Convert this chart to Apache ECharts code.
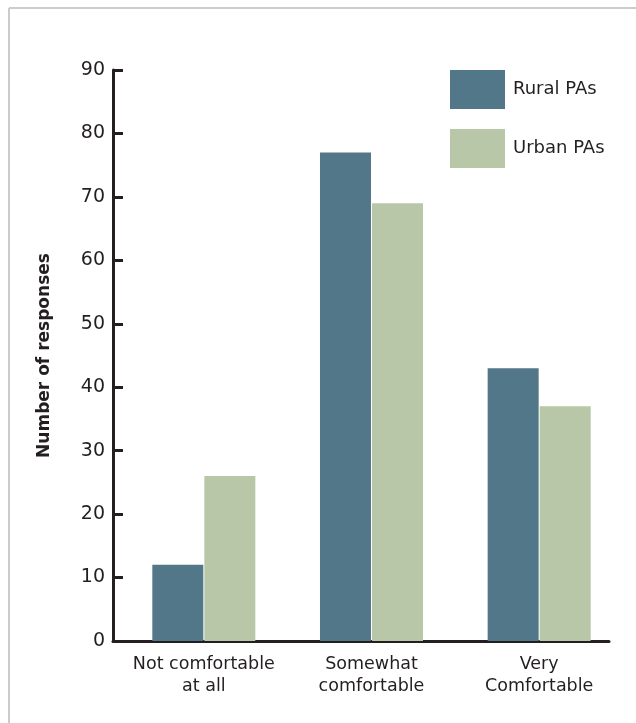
<!DOCTYPE html>
<html>
<head>
<meta charset="utf-8">
<script src="https://cdn.jsdelivr.net/npm/echarts@6/dist/echarts.min.js"></script>
<style>
html,body{margin:0;padding:0;background:#fff;}
#chart{width:636px;height:723px;}
</style>
</head>
<body>
<div id="chart"></div>
<script>
const categories = ['Not comfortable\nat all', 'Somewhat\ncomfortable', 'Very\nComfortable'];
const seriesNames = ['Rural PAs', 'Urban PAs'];
const ruralValues = [12, 77, 43];
const urbanValues = [26, 69, 37];
const yTicks = { min: 0, max: 90, interval: 10 };

const FONT = 'DejaVu Sans';
const AXIS_COLOR = '#231f20';
const chart = echarts.init(document.getElementById('chart'), null, { renderer: 'canvas' });

const option = {
  backgroundColor: '#ffffff',
  animation: false,
  textStyle: { fontFamily: FONT },
  graphic: [
    { type: 'line', shape: { x1: 9, y1: 8, x2: 636, y2: 8 }, style: { stroke: '#cccccc', lineWidth: 2 } },
    { type: 'line', shape: { x1: 9, y1: 8, x2: 9, y2: 723 }, style: { stroke: '#cccccc', lineWidth: 2 } }
  ],
  legend: {
    orient: 'vertical',
    left: 450,
    top: 70,
    padding: 0,
    itemWidth: 55,
    itemHeight: 39,
    itemGap: 20,
    icon: 'rect',
    data: seriesNames,
    textStyle: { fontFamily: FONT, fontSize: 18, color: '#231f20', padding: [0, 0, 0, 3] }
  },
  grid: [
    { left: 113, top: 70, width: 496, height: 571 },
    { left: 120, top: 70, width: 503, height: 571 }
  ],
  xAxis: [
    {
      type: 'category', gridIndex: 0, data: categories,
      axisLine: { lineStyle: { color: AXIS_COLOR, width: 3 } },
      axisTick: { inside: true, length: 12, lineStyle: { color: AXIS_COLOR, width: 3 } },
      axisLabel: { show: false }
    },
    {
      type: 'category', gridIndex: 1, data: categories,
      axisLine: { show: false },
      axisTick: { show: false },
      axisLabel: { interval: 0, fontFamily: FONT, fontSize: 17.5, color: '#231f20', lineHeight: 22, margin: 12 }
    }
  ],
  yAxis: [
    {
      type: 'value', gridIndex: 0, min: yTicks.min, max: yTicks.max, interval: yTicks.interval,
      name: 'Number of responses',
      nameLocation: 'middle',
      nameGap: 60,
      nameRotate: 90,
      nameTextStyle: { fontFamily: FONT, fontSize: 17, fontWeight: 'bold', color: '#231f20' },
      axisLine: { show: true, lineStyle: { color: AXIS_COLOR, width: 3 } },
      axisTick: { show: true, inside: true, length: 10, lineStyle: { color: AXIS_COLOR, width: 3 } },
      axisLabel: { fontFamily: FONT, fontSize: 19, color: '#231f20', margin: 8 },
      splitLine: { show: false }
    },
    {
      type: 'value', gridIndex: 1, min: yTicks.min, max: yTicks.max, interval: yTicks.interval,
      show: false, splitLine: { show: false }
    }
  ],
  series: [
    {
      name: seriesNames[0], type: 'bar', xAxisIndex: 1, yAxisIndex: 1,
      data: ruralValues, barWidth: 51, barGap: '2%',
      itemStyle: { color: '#527789' }
    },
    {
      name: seriesNames[1], type: 'bar', xAxisIndex: 1, yAxisIndex: 1,
      data: urbanValues, barWidth: 51, barGap: '2%',
      itemStyle: { color: '#b7c7a7' }
    }
  ]
};
chart.setOption(option);
</script>
</body>
</html>
